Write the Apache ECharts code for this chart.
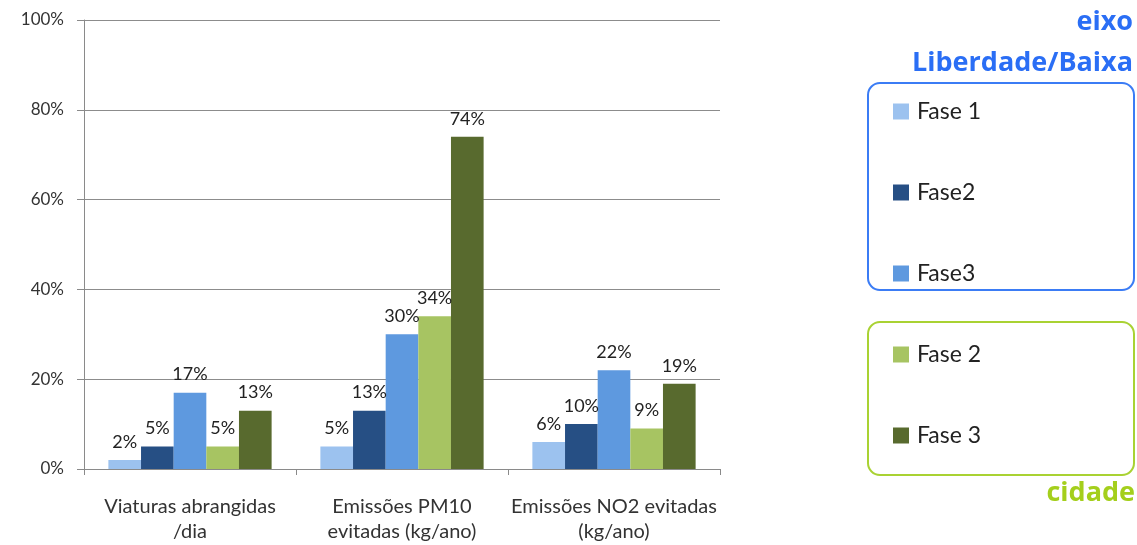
<!DOCTYPE html>
<html>
<head>
<meta charset="utf-8">
<script src="https://cdn.jsdelivr.net/npm/echarts@6/dist/echarts.min.js"></script>
<style>
  html, body { margin: 0; padding: 0; background: #fff; }
  #chart { width: 1137px; height: 545px; }
</style>
</head>
<body>
<div id="chart"></div>
<script>
// Categories along the x axis
const categories = [
  'Viaturas abrangidas\n/dia',
  'Emissões PM10\nevitadas (kg/ano)',
  'Emissões NO2 evitadas\n(kg/ano)'
];

// Percentages per phase ("eixo Liberdade/Baixa" and "cidade")
const fase1Eixo = [2, 5, 6];
const fase2Eixo = [5, 13, 10];
const fase3Eixo = [17, 30, 22];
const fase2Cidade = [5, 34, 9];
const fase3Cidade = [13, 74, 19];

const yTicks = [0, 20, 40, 60, 80, 100];

const FONT = 'Lato, "Open Sans", sans-serif';
const TITLE_FONT = '"Open Sans", Lato, sans-serif';

const colors = {
  'Fase 1': '#9cc2ef',
  'Fase2': '#264f84',
  'Fase3': '#5e99df',
  'Fase 2': '#a7c462',
  'Fase 3': '#586a2e'
};

function bar(name, data) {
  return {
    name: name,
    type: 'bar',
    data: data,
    barGap: '0%',
    barCategoryGap: '23%',
    itemStyle: { color: colors[name] },
    label: {
      show: true,
      position: 'top',
      distance: 9,
      formatter: '{c}%',
      color: '#222',
      fontFamily: FONT,
      fontSize: 18
    }
  };
}

const legendText = {
  fontSize: 23,
  lineHeight: 20,
  color: '#222',
  fontFamily: FONT,
  padding: [0, 0, 0, 3]
};

function heading(text, x, y, color) {
  return {
    type: 'text',
    x: x, y: y,
    style: {
      text: text,
      fill: color,
      font: 'bold 27px ' + TITLE_FONT,
      textAlign: 'right',
      textVerticalAlign: 'middle'
    }
  };
}

const chart = echarts.init(document.getElementById('chart'));

chart.setOption({
  animation: false,
  backgroundColor: '#fff',
  textStyle: { fontFamily: FONT },
  graphic: [
    heading('eixo', 1133, 22, '#2a6ef5'),
    heading('Liberdade/Baixa', 1133, 63, '#2a6ef5'),
    heading('cidade', 1135, 493, '#a4cf1c'),
    {
      type: 'rect',
      shape: { x: 868, y: 83, width: 266, height: 207, r: 12 },
      style: { fill: 'none', stroke: '#3b7cf5', lineWidth: 2 }
    },
    {
      type: 'rect',
      shape: { x: 868, y: 322, width: 266, height: 153, r: 12 },
      style: { fill: 'none', stroke: '#a9d233', lineWidth: 2 }
    }
  ],
  legend: [
    {
      data: ['Fase 1', 'Fase2', 'Fase3'],
      orient: 'vertical',
      left: 893,
      top: 100,
      padding: 0,
      itemWidth: 16,
      itemHeight: 16,
      itemGap: 58,
      icon: 'rect',
      textStyle: legendText
    },
    {
      data: ['Fase 2', 'Fase 3'],
      orient: 'vertical',
      left: 893,
      top: 343,
      padding: 0,
      itemWidth: 16,
      itemHeight: 16,
      itemGap: 58,
      icon: 'rect',
      textStyle: legendText
    }
  ],
  grid: { left: 84, right: 417, top: 20, bottom: 76 },
  xAxis: {
    type: 'category',
    data: categories,
    axisLine: { lineStyle: { color: '#8a8a8a', width: 1 } },
    axisTick: { show: true, length: 6, lineStyle: { color: '#8a8a8a' } },
    axisLabel: {
      interval: 0,
      hideOverlap: false,
      color: '#333',
      fontSize: 20,
      lineHeight: 25,
      margin: 25,
      fontFamily: FONT
    }
  },
  yAxis: {
    type: 'value',
    min: yTicks[0],
    max: yTicks[yTicks.length - 1],
    interval: 20,
    axisLine: { show: true, lineStyle: { color: '#8a8a8a' } },
    axisTick: { show: true, length: 7, lineStyle: { color: '#8a8a8a' } },
    splitLine: { lineStyle: { color: '#8c8c8c', width: 1 } },
    axisLabel: {
      formatter: '{value}%',
      color: '#333',
      fontSize: 17,
      margin: 20,
      fontFamily: FONT
    }
  },
  series: [
    bar('Fase 1', fase1Eixo),
    bar('Fase2', fase2Eixo),
    bar('Fase3', fase3Eixo),
    bar('Fase 2', fase2Cidade),
    bar('Fase 3', fase3Cidade)
  ]
});
</script>
</body>
</html>
